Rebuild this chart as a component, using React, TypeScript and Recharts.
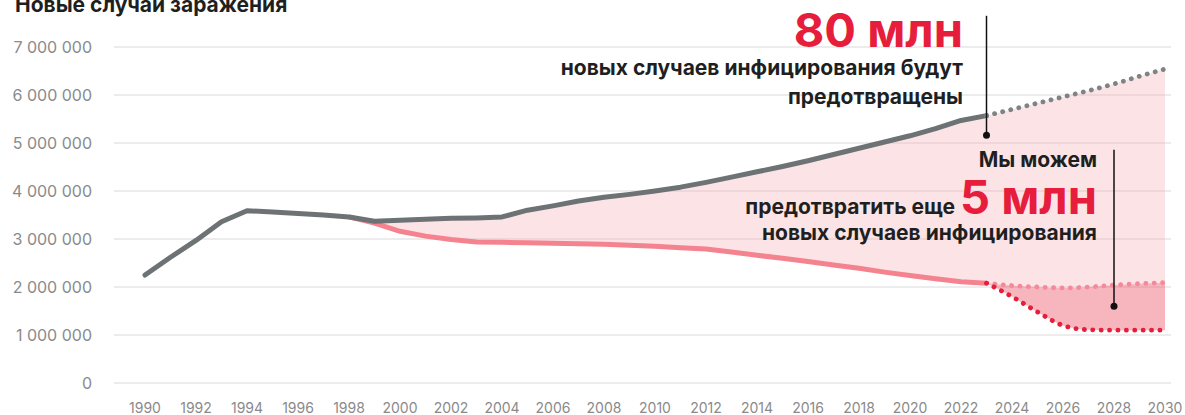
import React from 'react';
import {
  ComposedChart, Line, Area, XAxis, YAxis, CartesianGrid, ReferenceLine, ReferenceDot,
} from 'recharts';

// years with observed data
const histYears = [
  1990, 1991, 1992, 1993, 1994, 1995, 1996, 1997, 1998, 1999,
  2000, 2001, 2002, 2003, 2004, 2005, 2006, 2007, 2008, 2009,
  2010, 2011, 2012, 2013, 2014, 2015, 2016, 2017, 2018, 2019,
  2020, 2021, 2022, 2023,
];
// total new infections, millions
const totalHist = [
  2.25, 2.62, 2.97, 3.36, 3.59, 3.56, 3.53, 3.5, 3.46, 3.37,
  3.39, 3.41, 3.43, 3.44, 3.46, 3.6, 3.69, 3.79, 3.87, 3.93,
  4.0, 4.08, 4.18, 4.29, 4.4, 4.51, 4.63, 4.76, 4.89, 5.02,
  5.15, 5.3, 5.47, 5.57,
];
// with response, starting 1998, millions
const reducedStart = 1998;
const reducedHist = [
  3.46, 3.33, 3.16, 3.06, 2.99, 2.94, 2.93, 2.92, 2.91, 2.9,
  2.89, 2.87, 2.85, 2.82, 2.79, 2.73, 2.66, 2.6, 2.53, 2.46,
  2.39, 2.31, 2.24, 2.17, 2.11, 2.08,
];

// projections
const projYears = [2023, 2024, 2025, 2026, 2027, 2028, 2029, 2030];
const totalProj = [5.57, 5.7, 5.83, 5.96, 6.09, 6.23, 6.39, 6.54];
const reducedProj = [2.08, 2.03, 2.0, 1.98, 2.0, 2.04, 2.07, 2.09];
const targetProj = [2.08, 1.8, 1.48, 1.2, 1.11, 1.1, 1.1, 1.1];

const xTicks = [
  1990, 1992, 1994, 1996, 1998, 2000, 2002, 2004, 2006, 2008, 2010,
  2012, 2014, 2016, 2018, 2020, 2022, 2024, 2026, 2028, 2030,
];
const yTicks = [0, 1000000, 2000000, 3000000, 4000000, 5000000, 6000000, 7000000];

const M = 1000000;

type Row = {
  year: number;
  total?: number | null;
  totalP?: number | null;
  reduced?: number | null;
  reducedP?: number | null;
  target?: number | null;
  band?: [number, number] | null;
  gap?: [number, number] | null;
};

const rowMap = new Map<number, Row>();
const getRow = (y: number) => {
  if (!rowMap.has(y)) rowMap.set(y, { year: y });
  return rowMap.get(y)!;
};
histYears.forEach((y, i) => { getRow(y).total = totalHist[i] * M; });
reducedHist.forEach((v, i) => { getRow(reducedStart + i).reduced = v * M; });
projYears.forEach((y, i) => {
  const r = getRow(y);
  r.totalP = totalProj[i] * M;
  r.reducedP = reducedProj[i] * M;
  r.target = targetProj[i] * M;
  r.gap = [targetProj[i] * M, reducedProj[i] * M];
});
rowMap.forEach((r) => {
  const hi = r.totalP ?? r.total;
  const lo = r.reducedP ?? r.reduced;
  r.band = hi != null && lo != null ? [lo, hi] : null;
});
const data = Array.from(rowMap.values()).sort((a, b) => a.year - b.year);

const fmt = (v: number) => String(v).replace(/\B(?=(\d{3})+(?!\d))/g, ' ');

const FONT = 'Inter, "Noto Sans", sans-serif';
const RED = '#e61e3c';
const INK = '#1f1f1f';

export default function App() {
  return (
    <div style={{ position: 'absolute', left: 0, top: 0, width: 1185, height: 415, fontFamily: FONT, background: '#fff' }}>
      <ComposedChart
        width={1185}
        height={415}
        data={data}
        margin={{ top: 47, right: 14, bottom: 0, left: 0 }}
      >
        <CartesianGrid vertical={false} stroke="#e6e6e6" strokeWidth={1.5} />
        <XAxis
          dataKey="year"
          type="number"
          domain={[1990, 2030]}
          ticks={xTicks}
          interval={0}
          padding={{ left: 31, right: 6 }}
          axisLine={false}
          tickLine={false}
          tickMargin={14}
          height={32}
          tick={{ fill: '#8a8a8a', fontSize: 14, fontFamily: FONT }}
        />
        <YAxis
          domain={[0, 7000000]}
          ticks={yTicks}
          width={114}
          axisLine={false}
          tickLine={false}
          tickMargin={16}
          tickFormatter={fmt}
          tick={{ fill: '#8a8a8a', fontSize: 16, fontFamily: FONT }}
        />
        <Area dataKey="band" stroke="none" fill="#f6a5ad" fillOpacity={0.3} isAnimationActive={false} />
        <Area dataKey="gap" type="monotone" stroke="none" fill="#ee5a6f" fillOpacity={0.45} isAnimationActive={false} />
        <Line dataKey="reduced" stroke="#f4838f" strokeWidth={5} dot={false} isAnimationActive={false} />
        <Line dataKey="total" stroke="#6d7275" strokeWidth={5} dot={false} strokeLinecap="round" strokeLinejoin="round" isAnimationActive={false} />
        <Line dataKey="totalP" type="monotone" stroke="#7f8386" strokeWidth={4.8} strokeDasharray="0.1 8.2" strokeLinecap="round" dot={false} isAnimationActive={false} />
        <Line dataKey="reducedP" type="monotone" stroke="#f3899a" strokeWidth={4.8} strokeDasharray="0.1 8.3" strokeLinecap="round" dot={false} isAnimationActive={false} />
        <Line dataKey="target" type="monotone" stroke={RED} strokeWidth={4.8} strokeDasharray="0.1 8.3" strokeLinecap="round" dot={false} isAnimationActive={false} />
        <ReferenceLine segment={[{ x: 2023, y: 5160000 }, { x: 2023, y: 7650000 }]} stroke="#111" strokeWidth={1.5} ifOverflow="visible" />
        <ReferenceDot x={2023} y={5160000} r={3.5} fill="#111" stroke="none" ifOverflow="visible" />
        <ReferenceLine segment={[{ x: 2028, y: 1600000 }, { x: 2028, y: 4860000 }]} stroke="#111" strokeWidth={1.5} ifOverflow="visible" />
        <ReferenceDot x={2028} y={1600000} r={3.5} fill="#111" stroke="none" ifOverflow="visible" />
      </ComposedChart>
      <svg width={1185} height={415} style={{ position: 'absolute', left: 0, top: 0, pointerEvents: 'none' }}>
        <g fontFamily={FONT} fontWeight={700}>
          <text x={15} y={12} fontSize={21} fill={INK}>Новые случаи заражения</text>
          <text x={963} y={46.5} fontSize={47} fill={RED} textAnchor="end">80 млн</text>
          <text x={963} y={75} fontSize={21} fill={INK} textAnchor="end">новых случаев инфицирования будут</text>
          <text x={963} y={104} fontSize={21} fill={INK} textAnchor="end">предотвращены</text>
          <text x={1097} y={166.5} fontSize={21} fill={INK} textAnchor="end">Мы можем</text>
          <text x={1097} y={213.5} textAnchor="end">
            <tspan fontSize={21} fill={INK}>предотвратить еще </tspan>
            <tspan fontSize={47} fill={RED}>5 млн</tspan>
          </text>
          <text x={1097} y={240} fontSize={21} fill={INK} textAnchor="end">новых случаев инфицирования</text>
        </g>
      </svg>
    </div>
  );
}
